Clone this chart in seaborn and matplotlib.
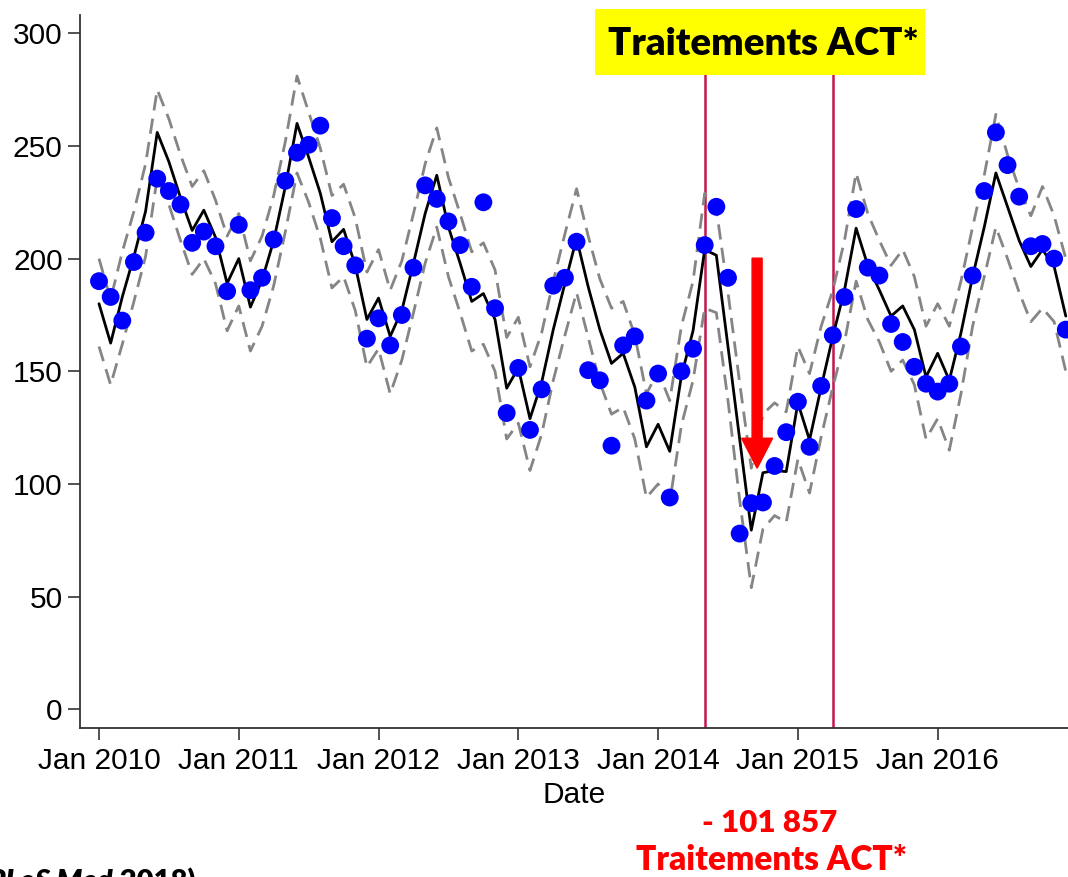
import numpy as np
import pandas as pd
import matplotlib
matplotlib.use("Agg")
import matplotlib.pyplot as plt
import seaborn as sns
from matplotlib.patches import Rectangle

# ---------------- data (monthly, Jan 2010 .. Dec 2016) ----------------
observed = [
    190, 183, 172.5, 198.5, 211.5, 235.5, 230, 224, 207, 212, 205.5, 185.5,
    215, 186, 191.5, 208.5, 234.5, 247, 250.5, 259, 218, 205.5, 197, 164.5,
    173.5, 161.5, 175, 196, 232.5, 226.5, 216.5, 206, 187.5, 225, 178, 131.5,
    151.5, 124, 142, 188, 191.5, 207.5, 150.5, 146, 117, 161.5, 165.5, 137,
    149, 94, 150, 160, 206, 223, 191.5, 78, 91.5, 91.8, 108, 123,
    136.5, 116.5, 143.5, 166, 183, 222, 196, 192.5, 171, 163, 152, 144.5,
    141, 144.5, 161, 192.5, 230, 256, 241.5, 227.5, 205.5, 206.5, 200, 168.5,
]
fitted = [
    180, 162.5, 183, 201, 221, 256, 243, 227, 212.5, 221.5, 209.5, 189,
    200, 178.5, 190.5, 208, 232, 260, 245, 229, 207.5, 213, 197, 173,
    182.5, 165.5, 177, 198, 220, 237, 214, 198, 181, 184.5, 173, 142.5,
    151.5, 129, 145, 168.5, 189, 209, 187.5, 168.5, 153.5, 158, 143, 116.5,
    126.5, 114.5, 148, 168, 204, 201.5, 161, 120, 79.5, 105, 106, 105.5,
    136, 119.5, 143, 165.5, 186, 213.5, 197, 186, 174.5, 179, 168.5, 147.5,
    158, 146, 167, 192, 214, 238, 223, 208, 196.5, 204, 196.5, 174.5,
]
upper = [
    200, 182, 203, 221, 242, 275, 262, 246, 232, 239, 226, 210,
    220, 199, 210, 228, 252, 281, 265, 249, 228, 233, 218, 194,
    204, 186, 199, 220, 242, 258, 236, 220, 203, 207, 195, 165,
    174, 152, 167, 190, 211, 231, 210, 191, 178, 181, 166, 140,
    150, 137, 170, 190, 229, 222, 185, 145, 107, 131, 136, 132,
    161, 149, 170, 186, 208, 238, 220, 208, 197, 204, 192, 170,
    180, 170, 190, 214, 237, 264, 246, 231, 219, 232, 219, 200,
]
lower = [
    161, 144, 162, 181, 201, 236, 224, 208, 193, 200, 189, 168,
    179, 159, 170, 188, 212, 238, 225, 209, 187, 192, 177, 152,
    160, 140, 155, 176, 198, 214, 192, 176, 159, 162, 150, 120,
    127, 106, 122, 146, 166, 185, 165, 145, 131, 134, 120, 94,
    100, 92, 126, 146, 178, 176, 137, 93, 54, 80, 86, 83,
    111, 96, 121, 143, 163, 190, 173, 163, 150, 155, 144, 120,
    129, 115, 140, 170, 192, 214, 200, 185, 172, 178, 172, 150,
]
tick_months = [0, 12, 24, 36, 48, 60, 72]
tick_labels = ["Jan 2010", "Jan 2011", "Jan 2012", "Jan 2013",
               "Jan 2014", "Jan 2015", "Jan 2016"]
y_ticks = [0, 50, 100, 150, 200, 250, 300]
intervention_months = [52, 63]          # May 2014, Apr 2015
arrow_month, arrow_from, arrow_to = 56.5, 200.2, 107
box_text = "Traitements ACT*"
effect_text = "- 101 857"
source_italic = "PLoS Med"
source_rest = " 2018)"

# ---------------- figure ----------------
sns.set_style("ticks")
plt.rcParams["font.family"] = ["Liberation Sans", "DejaVu Sans"]

W, H = 1068, 877
fig = plt.figure(figsize=(W / 100, H / 100), dpi=100)
fig.patch.set_facecolor("white")
ax = fig.add_axes([80 / W, 1 - 728.3 / H, 1 - 80 / W, (728.3 - 15) / H])

df = pd.DataFrame({
    "month": np.arange(len(observed)),
    "observed": observed,
    "fitted": fitted,
    "upper": upper,
    "lower": lower,
})

for col in ["upper", "lower"]:
    sns.lineplot(data=df, x="month", y=col, ax=ax, color="#858585",
                 lw=2.0, linestyle="--", zorder=2)
    ax.lines[-1].set_dashes([5.5, 3.0])
sns.lineplot(data=df, x="month", y="fitted", ax=ax, color="black",
             lw=2.0, zorder=2)
for m in intervention_months:
    ax.axvline(m, color="#C0184A", lw=1.8, zorder=1)
sns.scatterplot(data=df, x="month", y="observed", ax=ax, color="#0000FF",
                s=165, edgecolor="none", linewidth=0, zorder=3)

ax.arrow(arrow_month, arrow_from, 0, arrow_to - arrow_from, width=0.86,
         head_width=2.66, head_length=13.3, length_includes_head=True,
         color="#FF0000", zorder=4)

ax.set_xlim(-1.63, 83.19)
ax.set_ylim(-8.4, 308.1)
ax.set_xticks(tick_months)
ax.set_xticklabels(tick_labels)
ax.set_yticks(y_ticks)
ax.set_xlabel("Date", fontsize=21.5, labelpad=4, color="black")
ax.set_ylabel("")
for s in ["top", "right"]:
    ax.spines[s].set_visible(False)
for s in ["left", "bottom"]:
    ax.spines[s].set_color("#333333")
    ax.spines[s].set_linewidth(1.3)
ax.tick_params(axis="both", direction="out", length=8.5, width=1.2,
               color="#333333", labelsize=21.5, labelcolor="black")
ax.tick_params(axis="x", pad=5)
ax.tick_params(axis="y", pad=4)

# yellow title box
fig.add_artist(Rectangle((595 / W, 1 - 75 / H), 330 / W, 66 / H,
                         transform=fig.transFigure, facecolor="#FFFF00",
                         edgecolor="none", zorder=5))
fig.text(763 / W, 1 - 55 / H, box_text, fontfamily="Lato", fontweight="heavy",
         fontsize=27.5, ha="center", va="baseline", color="black", zorder=6)

# red annotation below
fig.text(770 / W, 1 - 831.7 / H, effect_text, fontfamily="Lato",
         fontweight="heavy", fontsize=22.5, ha="center", va="baseline",
         color="#FF0000")
fig.text(772 / W, 1 - 870 / H, box_text, fontfamily="Lato",
         fontweight="heavy", fontsize=24, ha="center", va="baseline",
         color="#FF0000")

# partially cut source (cut off at the figure edge as in the reference)
t1 = fig.text(-12 / W, 1 - 890 / H, source_italic, fontfamily="Lato",
              fontweight="heavy", fontstyle="italic", fontsize=21,
              ha="left", va="baseline", color="black")
fig.canvas.draw()
bb = t1.get_window_extent(fig.canvas.get_renderer())
fig.text(bb.x1 / W, 1 - 890 / H, source_rest, fontfamily="Lato",
         fontweight="heavy", fontsize=21, ha="left", va="baseline",
         color="black")

fig.savefig("out.png", dpi=100)
